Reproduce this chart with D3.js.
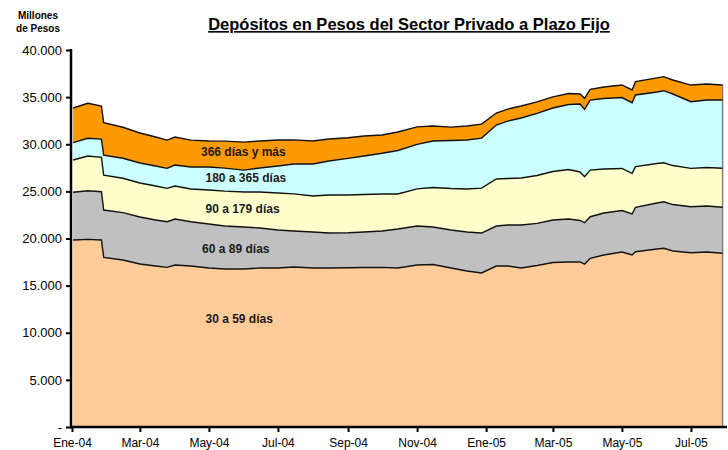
<!DOCTYPE html>
<html>
<head>
<meta charset="utf-8">
<script src="https://cdn.jsdelivr.net/npm/d3@7"></script>
<style>
body { margin: 0; background: #fff; }
svg { font-family: "Liberation Sans", Arial, sans-serif; }
</style>
</head>
<body>
<svg id="chart" width="728" height="450"></svg>
<script>
// fechas de lectura (aprox. quincenales)
var dates = ["2004-01-02","2004-01-15","2004-01-27","2004-01-29","2004-02-15","2004-03-01","2004-03-15","2004-03-25",
    "2004-04-01","2004-04-15","2004-05-01","2004-05-15","2004-06-01","2004-06-15","2004-07-01","2004-07-15",
    "2004-08-01","2004-08-15","2004-09-01","2004-09-15","2004-10-01","2004-10-15","2004-11-01","2004-11-15",
    "2004-12-01","2004-12-15","2004-12-28","2005-01-10","2005-01-20","2005-02-01","2005-02-15","2005-03-01",
    "2005-03-15","2005-03-25","2005-03-29","2005-04-03","2005-04-15","2005-05-01","2005-05-10","2005-05-13",
    "2005-06-01","2005-06-07","2005-06-15","2005-07-01","2005-07-15","2005-07-29"];

var d30a59 = [19840,19910,19840,18000,17720,17290,17080,16940,17190,17080,16870,16760,16760,16870,16870,16980,
    16870,16870,16900,16920,16940,16870,17190,17240,16870,16550,16340,17080,17080,16870,17140,17450,
    17510,17510,17290,17900,18250,18570,18250,18600,18890,18960,18670,18490,18570,18430];
var d60a89 = [5060,5160,5120,5020,5020,4990,4880,4840,4880,4700,4670,4560,4460,4240,4030,3820,
    3820,3710,3710,3770,3850,4140,4140,3980,4030,4140,4240,4240,4350,4560,4460,4510,
    4560,4400,4380,4410,4460,4400,4350,4710,4880,4940,4930,4880,4880,4880];
var d90a179 = [3430,3680,3650,3710,3650,3610,3610,3540,3500,3470,3610,3710,3710,3820,3930,3930,
    3820,4030,4000,3980,3930,3710,3930,4190,4400,4560,4770,4990,4930,4990,5090,5150,
    5250,5150,4880,4950,4670,4460,4320,4310,4190,4140,4140,4070,4080,4140];
var d180a365 = [1840,1880,1940,2120,2120,2120,2120,2120,2230,2330,2440,2440,2330,2550,2860,3180,
    3400,3610,3890,4080,4320,4620,4720,4930,5090,5200,5300,5730,6100,6370,6580,6740,
    6900,7210,7150,7430,7480,7530,7490,7610,7590,7640,7590,7070,7160,7250];
var d366ymas = [3680,3710,3500,3430,3290,3180,3080,3000,2970,2860,2760,2860,2970,2860,2760,2550,
    2440,2330,2190,2120,1940,1960,1860,1590,1430,1490,1490,1270,1270,1270,1220,1170,
    1170,1060,1170,1140,1220,1330,1350,1410,1490,1490,1490,1770,1700,1590];

var seriesNames = ["30 a 59 días","60 a 89 días","90 a 179 días","180 a 365 días","366 días y más"];
var seriesColors = ["#ffcc99","#c0c0c0","#ffffcc","#ccffff","#ff9900"];
// posicion de las etiquetas: fecha y valor
var labelDates = ["2004-04-28","2004-04-25","2004-04-28","2004-04-28","2004-04-24"];
var labelValues = [11430,18960,23100,26390,29210];

var monthAbbr = ["Ene","Feb","Mar","Abr","May","Jun","Jul","Ago","Sep","Oct","Nov","Dic"];
var yTicks = [0,5000,10000,15000,20000,25000,30000,35000,40000];

var parseDate = d3.timeParse("%Y-%m-%d");
var allSeries = [d30a59, d60a89, d90a179, d180a365, d366ymas];

var rows = dates.map(function(d, i){
    var r = {date: parseDate(d)};
    seriesNames.forEach(function(n, k){ r[n] = allSeries[k][i]; });
    return r;
});

var svg = d3.select("#chart");

var x = d3.scaleTime()
    .domain([new Date(2004,0,1), new Date(2005,7,1)])
    .range([72, 726]);
var y = d3.scaleLinear().domain([0,40000]).range([427,50]);

var stacked = d3.stack().keys(seriesNames)(rows);

var area = d3.area()
    .x(function(d){ return x(d.data.date); })
    .y0(function(d){ return y(d[0]); })
    .y1(function(d){ return y(d[1]); });

var topLine = d3.line()
    .x(function(d){ return x(d.data.date); })
    .y(function(d){ return y(d[1]); });

svg.selectAll("path.band")
    .data(stacked)
    .enter()
    .append("path")
    .attr("class","band")
    .attr("d", area)
    .attr("fill", function(d, i){ return seriesColors[i]; });

// borde derecho gris
var last = stacked[stacked.length-1];
var lastPt = last[last.length-1];
svg.append("line")
    .attr("x1", x(lastPt.data.date)).attr("x2", x(lastPt.data.date))
    .attr("y1", y(0)).attr("y2", y(lastPt[1]))
    .attr("stroke","#808080").attr("stroke-width",1.5);

svg.selectAll("path.edge")
    .data(stacked)
    .enter()
    .append("path")
    .attr("class","edge")
    .attr("d", topLine)
    .attr("fill","none")
    .attr("stroke","#111")
    .attr("stroke-width",1.4);

// etiquetas de las series
svg.selectAll("text.serie")
    .data(seriesNames)
    .enter()
    .append("text")
    .attr("class","serie")
    .attr("x", function(d, i){ return x(parseDate(labelDates[i])); })
    .attr("y", function(d, i){ return y(labelValues[i]); })
    .attr("dy","0.35em")
    .attr("font-size","12px")
    .attr("font-weight","bold")
    .attr("fill","#1a1a1a")
    .text(function(d){ return d; });

// ejes
var es = d3.formatLocale({decimal:",", thousands:".", grouping:[3], currency:["$",""]});
var fmt = es.format(",.0f");

var yAxis = d3.axisLeft(y)
    .tickValues(yTicks)
    .tickSize(5)
    .tickPadding(4)
    .tickFormat(function(d){ return d === 0 ? "-" : fmt(d); });

var gy = svg.append("g")
    .attr("transform","translate(71,0)")
    .call(yAxis);
gy.select(".domain").remove();
gy.selectAll("line").attr("stroke","#000").attr("stroke-width",2);
gy.selectAll("text").attr("font-size","13px").attr("fill","#000").attr("font-family","Liberation Sans, Arial, sans-serif");

var xAxis = d3.axisBottom(x)
    .ticks(d3.timeMonth.every(2))
    .tickSize(5)
    .tickPadding(6)
    .tickFormat(function(d){ return monthAbbr[d.getMonth()] + "-" + d3.timeFormat("%y")(d); });

var gx = svg.append("g")
    .attr("transform","translate(0,427)")
    .call(xAxis);
gx.select(".domain").remove();
gx.selectAll("line").attr("stroke","#000").attr("stroke-width",2);
gx.selectAll("text").attr("font-size","12px").attr("fill","#000").attr("font-family","Liberation Sans, Arial, sans-serif");

svg.append("line")
    .attr("x1",71).attr("x2",71).attr("y1",y(40000)-1).attr("y2",y(0)+1.5)
    .attr("stroke","#000").attr("stroke-width",2.5);
svg.append("line")
    .attr("x1",70).attr("x2",727).attr("y1",y(0)).attr("y2",y(0))
    .attr("stroke","#000").attr("stroke-width",2.5);

// titulos
svg.append("text")
    .attr("x",409).attr("y",30)
    .attr("text-anchor","middle")
    .attr("font-size","16.5px")
    .attr("font-weight","bold")
    .attr("text-decoration","underline")
    .text("Depósitos en Pesos del Sector Privado a Plazo Fijo");

svg.append("text")
    .attr("x",38).attr("y",19)
    .attr("text-anchor","middle")
    .attr("font-size","10px")
    .attr("font-weight","bold")
    .text("Millones");
svg.append("text")
    .attr("x",38).attr("y",32)
    .attr("text-anchor","middle")
    .attr("font-size","10px")
    .attr("font-weight","bold")
    .text("de Pesos");
</script>
</body>
</html>
